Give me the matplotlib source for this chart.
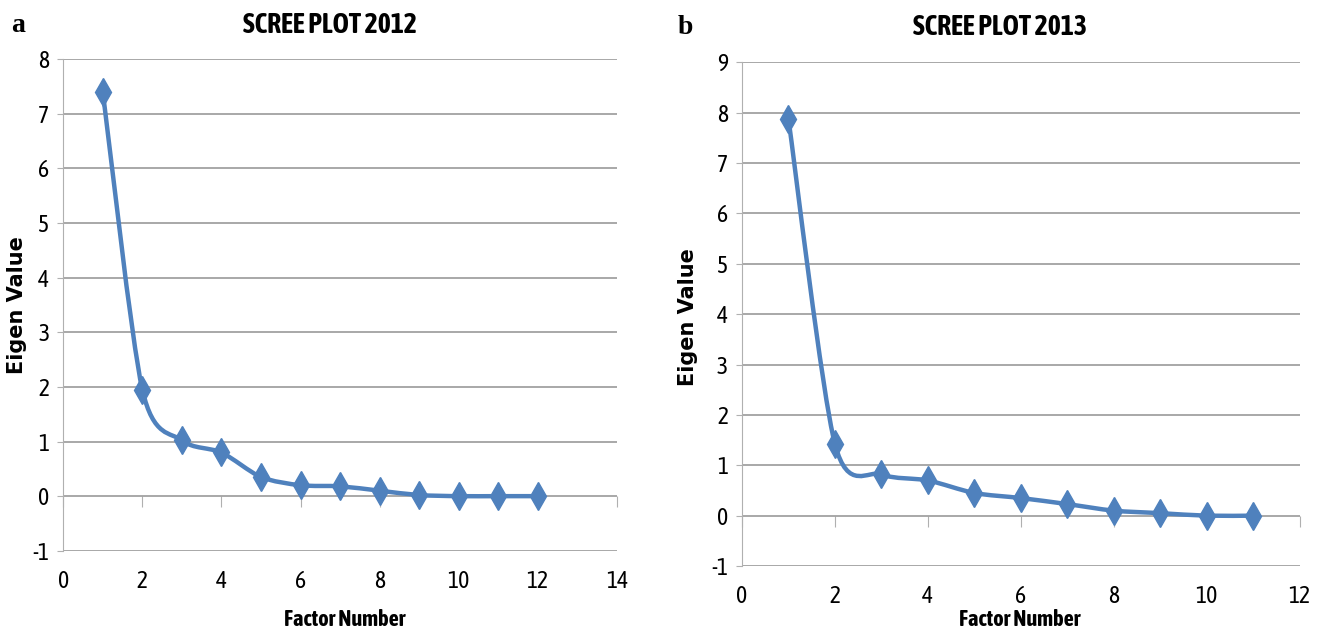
import numpy as np
import matplotlib
matplotlib.use("Agg")
import matplotlib.pyplot as plt
from matplotlib.path import Path
from matplotlib.patches import PathPatch

plt.rcParams["axes.unicode_minus"] = False

# data
factors_2012 = [1, 2, 3, 4, 5, 6, 7, 8, 9, 10, 11, 12]
eigen_2012 = [7.4, 1.95, 1.02, 0.8, 0.35, 0.2, 0.18, 0.1, 0.02, 0.0, 0.0, 0.0]
factors_2013 = [1, 2, 3, 4, 5, 6, 7, 8, 9, 10, 11]
eigen_2013 = [7.87, 1.42, 0.82, 0.7, 0.45, 0.35, 0.23, 0.1, 0.05, 0.0, 0.0]

BLUE = "#4F81BD"
GRID = "#9a9a9a"
NARROW = ["Asap Condensed", "Archivo Narrow", "DejaVu Sans"]


def smooth_path(x, y, t=0.14):
    # Excel-style smoothed line as cubic bezier segments through the points
    x = np.asarray(x, float)
    y = np.asarray(y, float)
    verts = [(x[0], y[0])]
    codes = [Path.MOVETO]
    n = len(x)
    for i in range(n - 1):
        p0 = (x[max(i - 1, 0)], y[max(i - 1, 0)])
        p1 = (x[i], y[i])
        p2 = (x[i + 1], y[i + 1])
        p3 = (x[min(i + 2, n - 1)], y[min(i + 2, n - 1)])
        c1 = (p1[0] + (p2[0] - p0[0]) * t, p1[1] + (p2[1] - p0[1]) * t)
        c2 = (p2[0] - (p3[0] - p1[0]) * t, p2[1] - (p3[1] - p1[1]) * t)
        verts += [c1, c2, p2]
        codes += [Path.CURVE4] * 3
    return Path(verts, codes)


def scree(ax, xs, ys, title, xmax, ymax, letter, title_x, letter_x,
          ylab_x, xlab_pos):
    ymin = -1
    ax.set_xlim(0, xmax)
    ax.set_ylim(ymin, ymax)
    ax.add_patch(PathPatch(smooth_path(xs, ys), fill=False, edgecolor=BLUE,
                           lw=3.2, zorder=3))
    ax.plot(xs, ys, linestyle="none", marker="d", markersize=14,
            color=BLUE, zorder=4)

    ax.set_yticks(range(ymin, ymax + 1))
    ax.set_xticks(range(0, xmax + 1, 2))
    ax.grid(axis="y", color=GRID, lw=1.2)
    ax.set_axisbelow(True)
    for s in ["top", "right", "bottom"]:
        ax.spines[s].set_visible(False)
    ax.spines["left"].set_color("#b0b0b0")
    ax.tick_params(axis="x", length=0, pad=14)
    ax.tick_params(axis="y", length=4, color="#b0b0b0", pad=6)
    for lab in ax.get_xticklabels() + ax.get_yticklabels():
        lab.set_family(NARROW)
        lab.set_fontsize(17)

    # horizontal axis crosses at zero, tick marks hang below it
    frac = (0 - ymin) / (ymax - ymin)
    sec = ax.secondary_xaxis(frac)
    sec.set_xticks(range(0, xmax + 1, 2))
    sec.tick_params(axis="x", direction="out", length=8, color="#b0b0b0",
                    labelbottom=False, labeltop=False)
    sec.spines["bottom"].set_visible(False)
    sec.set_xticklabels([])

    ax.text(title_x, 1.069, title, transform=ax.transAxes, ha="center",
            va="center", family=NARROW, fontweight="bold", fontsize=20)
    ax.text(letter_x, 1.069, letter, transform=ax.transAxes, ha="center",
            va="center", family="Liberation Serif", fontweight="bold",
            fontsize=20)
    ax.set_xlabel("Factor Number", family=NARROW, fontweight="bold",
                  fontsize=16)
    ax.xaxis.set_label_coords(*xlab_pos)
    ax.xaxis.label.set_verticalalignment("center")
    ax.set_ylabel("Eigen Value", family="DejaVu Sans", fontweight="bold",
                  fontsize=15)
    ax.yaxis.set_label_coords(ylab_x[0], ylab_x[1])
    ax.yaxis.label.set_verticalalignment("center")


fig = plt.figure(figsize=(13.18, 6.36), dpi=100)
ax1 = fig.add_axes([0.048, 0.134, 0.420, 0.773])
ax2 = fig.add_axes([0.563, 0.110, 0.423, 0.792])

scree(ax1, factors_2012, eigen_2012, "SCREE PLOT 2012", 14, 8, "a",
      0.482, -0.081, (-0.083, 0.50), (0.509, -0.140))
scree(ax2, factors_2013, eigen_2013, "SCREE PLOT 2013", 12, 9, "b",
      0.462, -0.102, (-0.097, 0.495), (0.498, -0.107))

fig.savefig("out.png", dpi=100)
